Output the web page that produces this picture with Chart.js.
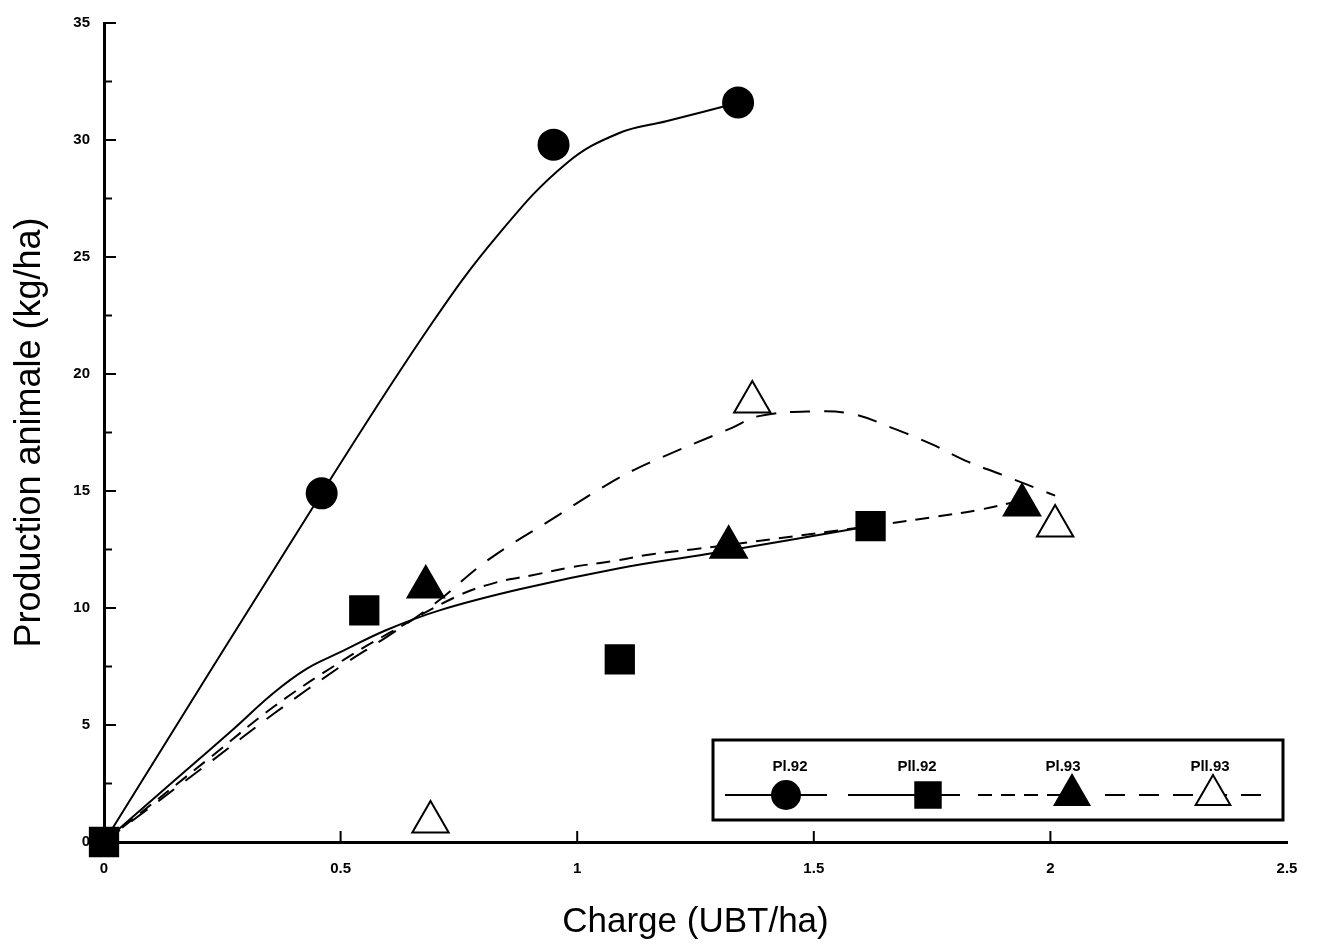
<!DOCTYPE html>
<html><head><meta charset="utf-8">
<script src="https://cdn.jsdelivr.net/npm/chart.js@4"></script>
<style>html,body{margin:0;padding:0;background:#fff}#wrap{width:1325px;height:947px}</style>
</head><body><div id="wrap"><canvas id="c" width="1325" height="947"></canvas></div>
<script>
// ---- Data ----
const seriesNames = ["Pl.92", "Pll.92", "Pl.93", "Pll.93"];

// Observed points (Charge UBT/ha, Production kg/ha)
const chargePl92  = [0.46, 0.95, 1.34];
const prodPl92    = [14.9, 29.8, 31.6];
const chargePll92 = [0, 0.55, 1.09, 1.62];
const prodPll92   = [0, 9.9, 7.8, 13.5];
const chargePl93  = [0.68, 1.32, 1.94];
const prodPl93    = [10.9, 12.6, 14.4];
const chargePll93 = [0.69, 1.37, 2.01];
const prodPll93   = [0.85, 18.8, 13.5];

// Fitted curves
const curveXPl92  = [0, 0.463, 0.694, 0.835, 0.977, 1.089, 1.188, 1.342];
const curveYPl92  = [0, 15.0, 22.2, 26.0, 29.0, 30.3, 30.8, 31.6];
const curveXPll92 = [0, 0.133, 0.272, 0.357, 0.428, 0.498, 0.597, 0.709, 0.878, 1.089, 1.272, 1.62];
const curveYPll92 = [0, 2.35, 4.8, 6.35, 7.4, 8.1, 9.06, 9.9, 10.8, 11.7, 12.3, 13.5];
const curveXPl93  = [0, 0.23, 0.36, 0.5, 0.6, 0.746, 0.83, 0.905, 0.989, 1.074, 1.158, 1.243, 1.32, 1.62, 1.757, 1.85, 1.94];
const curveYPl93  = [0, 3.7, 5.8, 7.7, 8.9, 10.5, 11.1, 11.4, 11.75, 12.0, 12.3, 12.5, 12.7, 13.5, 13.9, 14.2, 14.6];
const curveXPll93 = [0, 0.23, 0.36, 0.5, 0.6, 0.7, 0.808, 0.947, 1.074, 1.152, 1.327, 1.384, 1.496, 1.58, 1.665, 1.749, 1.82, 1.897, 2.01];
const curveYPll93 = [0, 3.5, 5.5, 7.5, 8.8, 10.2, 12.0, 13.8, 15.4, 16.2, 17.7, 18.2, 18.4, 18.3, 17.7, 17.0, 16.3, 15.7, 14.8];

const xTitle = "Charge (UBT/ha)";
const yTitle = "Production animale (kg/ha)";

// ---- Build datasets ----
const pts = (xs, ys) => xs.map((x, i) => ({x, y: ys[i]}));
const FONT = "'Liberation Sans', Arial, Helvetica, sans-serif";

const markerStyles = [
  {pointStyle: 'circle',   radius: 15, fill: '#000', dash: []},
  {pointStyle: 'rect',     radius: 20, fill: '#000', dash: []},
  {pointStyle: 'triangle', radius: 21, fill: '#000', dash: [14, 9]},
  {pointStyle: 'triangle', radius: 21, fill: '#fff', dash: [20, 14]}
];
const markerData = [pts(chargePl92, prodPl92), pts(chargePll92, prodPll92), pts(chargePl93, prodPl93), pts(chargePll93, prodPll93)];
const curveData  = [pts(curveXPl92, curveYPl92), pts(curveXPll92, curveYPll92), pts(curveXPl93, curveYPl93), pts(curveXPll93, curveYPll93)];

const datasets = [];
seriesNames.forEach((name, i) => {
  const m = markerStyles[i];
  datasets.push({
    label: name, data: markerData[i], showLine: false,
    pointStyle: m.pointStyle, pointRadius: m.radius, pointHoverRadius: m.radius,
    pointBackgroundColor: m.fill, pointBorderColor: '#000', pointBorderWidth: 2,
    clip: false
  });
});
seriesNames.forEach((name, i) => {
  datasets.push({
    label: name + ' (courbe)', data: curveData[i], showLine: true,
    borderColor: '#000', borderWidth: 2, borderDash: markerStyles[i].dash,
    pointRadius: 0, pointHoverRadius: 0, tension: 0.4, fill: false, clip: false
  });
});

// ---- Plugins ----
const inwardTicks = {
  id: 'inwardTicks',
  afterDraw(chart) {
    const ctx = chart.ctx, xs = chart.scales.x, ys = chart.scales.y;
    ctx.save();
    ctx.strokeStyle = '#000';
    ctx.lineWidth = 2;
    const yt = ys.ticks;
    yt.forEach((t, i) => {
      if (t.value !== 0) {
        const py = ys.getPixelForValue(t.value);
        ctx.beginPath(); ctx.moveTo(xs.left, py); ctx.lineTo(xs.left + 12, py); ctx.stroke();
      }
      if (i < yt.length - 1) {
        const pm = ys.getPixelForValue((t.value + yt[i + 1].value) / 2);
        ctx.beginPath(); ctx.moveTo(xs.left, pm); ctx.lineTo(xs.left + 8, pm); ctx.stroke();
      }
    });
    xs.ticks.forEach(t => {
      if (t.value === 0 || t.value === xs.max) return;
      const px = xs.getPixelForValue(t.value);
      ctx.beginPath(); ctx.moveTo(px, ys.bottom); ctx.lineTo(px, ys.bottom - 11); ctx.stroke();
    });
    ctx.restore();
  }
};

const boxLegend = {
  id: 'boxLegend',
  afterDraw(chart) {
    const ctx = chart.ctx, a = chart.chartArea;
    const w = 570, h = 80;
    const bx = a.right - 4 - w, by = a.bottom - 22 - h;
    ctx.save();
    ctx.fillStyle = '#fff';
    ctx.fillRect(bx, by, w, h);
    ctx.strokeStyle = '#000';
    ctx.lineWidth = 3;
    ctx.strokeRect(bx, by, w, h);
    const labelX = [77, 204, 350, 497];
    const markX  = [73, 215, 359, 500];
    const legendRadius = [14, 18, 20, 20];
    const segs = [[12, 114], [135, 247], [265, 377], [392, 552]];
    seriesNames.forEach((name, i) => {
      const m = markerStyles[i];
      const cy = by + 55;
      ctx.strokeStyle = '#000';
      ctx.lineWidth = 2;
      ctx.setLineDash(m.dash);
      ctx.beginPath(); ctx.moveTo(bx + segs[i][0], cy); ctx.lineTo(bx + segs[i][1], cy); ctx.stroke();
      ctx.setLineDash([]);
      ctx.fillStyle = m.fill;
      ctx.strokeStyle = '#000';
      ctx.lineWidth = 2;
      Chart.helpers.drawPoint(ctx, {pointStyle: m.pointStyle, radius: legendRadius[i], rotation: 0, borderWidth: 2}, bx + markX[i], cy);
      ctx.fillStyle = '#000';
      ctx.font = 'bold 15px ' + FONT;
      ctx.textAlign = 'center';
      ctx.textBaseline = 'middle';
      ctx.fillText(name, bx + labelX[i], by + 27);
    });
    ctx.restore();
  }
};

new Chart(document.getElementById('c'), {
  type: 'scatter',
  data: {datasets},
  options: {
    responsive: false,
    animation: false,
    devicePixelRatio: 1,
    layout: {padding: {left: 0, right: 38, top: 22, bottom: 0}},
    plugins: {legend: {display: false}, tooltip: {enabled: false}},
    scales: {
      x: {
        type: 'linear', min: 0, max: 2.5,
        afterFit(s) { s.height = 105; },
        grid: {display: false, drawTicks: false, tickLength: 0},
        border: {display: true, color: '#000', width: 3},
        ticks: {stepSize: 0.5, color: '#000', padding: 18, maxRotation: 0,
                callback: v => String(Math.round(v * 10) / 10),
                font: {family: FONT, size: 15, weight: 'bold'}},
        title: {display: true, text: xTitle, color: '#000',
                font: {family: FONT, size: 35}, padding: {top: 0, bottom: 4}}
      },
      y: {
        type: 'linear', min: 0, max: 35,
        afterFit(s) { s.width = 104; },
        grid: {display: false, drawTicks: false, tickLength: 0},
        border: {display: true, color: '#000', width: 3},
        ticks: {stepSize: 5, color: '#000', padding: 14,
                font: {family: FONT, size: 15, weight: 'bold'}},
        title: {display: true, text: yTitle, color: '#000',
                font: {family: FONT, size: 36}, padding: {top: 8, bottom: 0}}
      }
    }
  },
  plugins: [inwardTicks, boxLegend]
});
</script></body></html>
